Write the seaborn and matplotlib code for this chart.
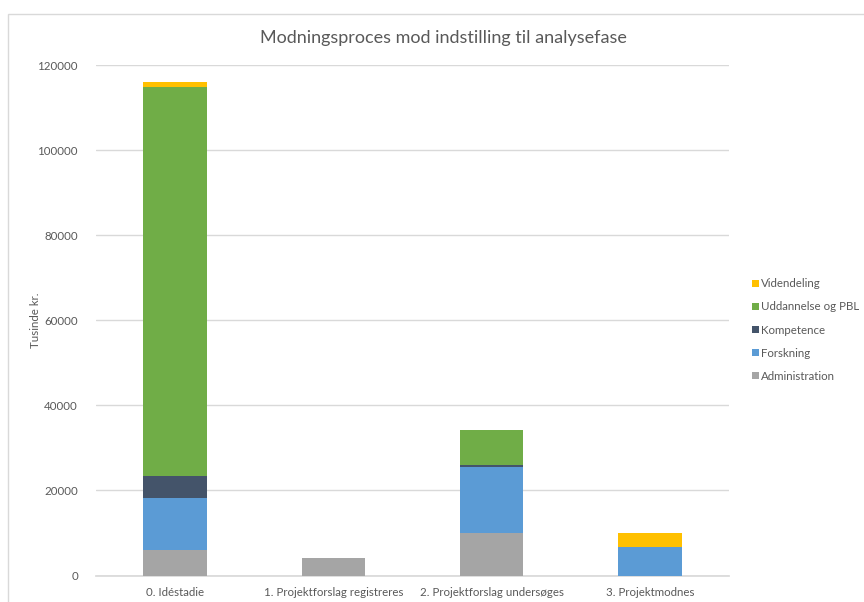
import numpy as np
import pandas as pd
import seaborn as sns
import matplotlib.pyplot as plt
from matplotlib.patches import Rectangle

# Data (tusinde kr.)
stages = ["0. Idéstadie", "1. Projektforslag registreres",
          "2. Projektforslag undersøges", "3. Projektmodnes"]
administration = [6000, 4200, 10100, 0]
forskning = [12300, 0, 15400, 6700]
kompetence = [5000, 0, 500, 0]
uddannelse = [91500, 0, 8300, 0]
videndeling = [1200, 0, 0, 3200]

series = [
    ("Administration", administration, "#A5A5A5"),
    ("Forskning", forskning, "#5B9BD5"),
    ("Kompetence", kompetence, "#44546A"),
    ("Uddannelse og PBL", uddannelse, "#70AD47"),
    ("Videndeling", videndeling, "#FFC000"),
]

sns.set_theme(style="white")
plt.rcParams['font.family'] = ['Lato', 'DejaVu Sans']
text_col = "#595959"
fs = 8.3

fig = plt.figure(figsize=(8.64, 6.02), dpi=100)
ax = fig.add_axes([96 / 864, 1 - 575.5 / 602, (729 - 96) / 864, (575.5 - 65.3) / 602])

# chart border
fig.patches.append(Rectangle((7.5 / 864, -0.1), 1.2, (602 - 13.5) / 602 + 0.1,
                             transform=fig.transFigure, fill=False,
                             edgecolor="#D9D9D9", linewidth=1))

# stacked bars: draw cumulative totals from top layer down
df = pd.DataFrame({name: vals for name, vals, _ in series}, index=stages)
cum = df.cumsum(axis=1)
for name, _, color in reversed(series):
    sns.barplot(x=stages, y=cum[name].values, color=color, width=0.4,
                label=name, ax=ax, saturation=1, linewidth=0, zorder=3)

ax.set_ylim(0, 120000)
ax.set_xlim(-0.5, 3.5)
ax.set_yticks(np.arange(0, 120001, 20000))
ax.yaxis.grid(True, color="#D9D9D9", linewidth=1, zorder=0)
ax.set_axisbelow(True)
for s in ["top", "right", "left"]:
    ax.spines[s].set_visible(False)
ax.spines["bottom"].set_color("#D9D9D9")
ax.tick_params(axis="both", length=0, labelsize=fs, labelcolor=text_col, pad=8)
ax.tick_params(axis="y", pad=13)
ax.set_ylabel("Tusinde kr.", fontsize=fs, color=text_col)
ax.yaxis.set_label_coords((41 - 96) / 633, 0.5)
ax.set_xlabel("")

fig.text(443 / 864, 1 - 38 / 602, "Modningsproces mod indstilling til analysefase",
         ha="center", va="center", fontsize=13, color=text_col)

handles, labels = ax.get_legend_handles_labels()
ax.legend(handles, labels, loc="center left", bbox_to_anchor=(747 / 864, 1 - 330 / 602),
          bbox_transform=fig.transFigure, frameon=False, fontsize=fs,
          labelcolor=text_col, handlelength=0.6, handleheight=0.6,
          handletextpad=0.25, labelspacing=1.05, borderaxespad=0)

fig.savefig("out.png", dpi=100)
